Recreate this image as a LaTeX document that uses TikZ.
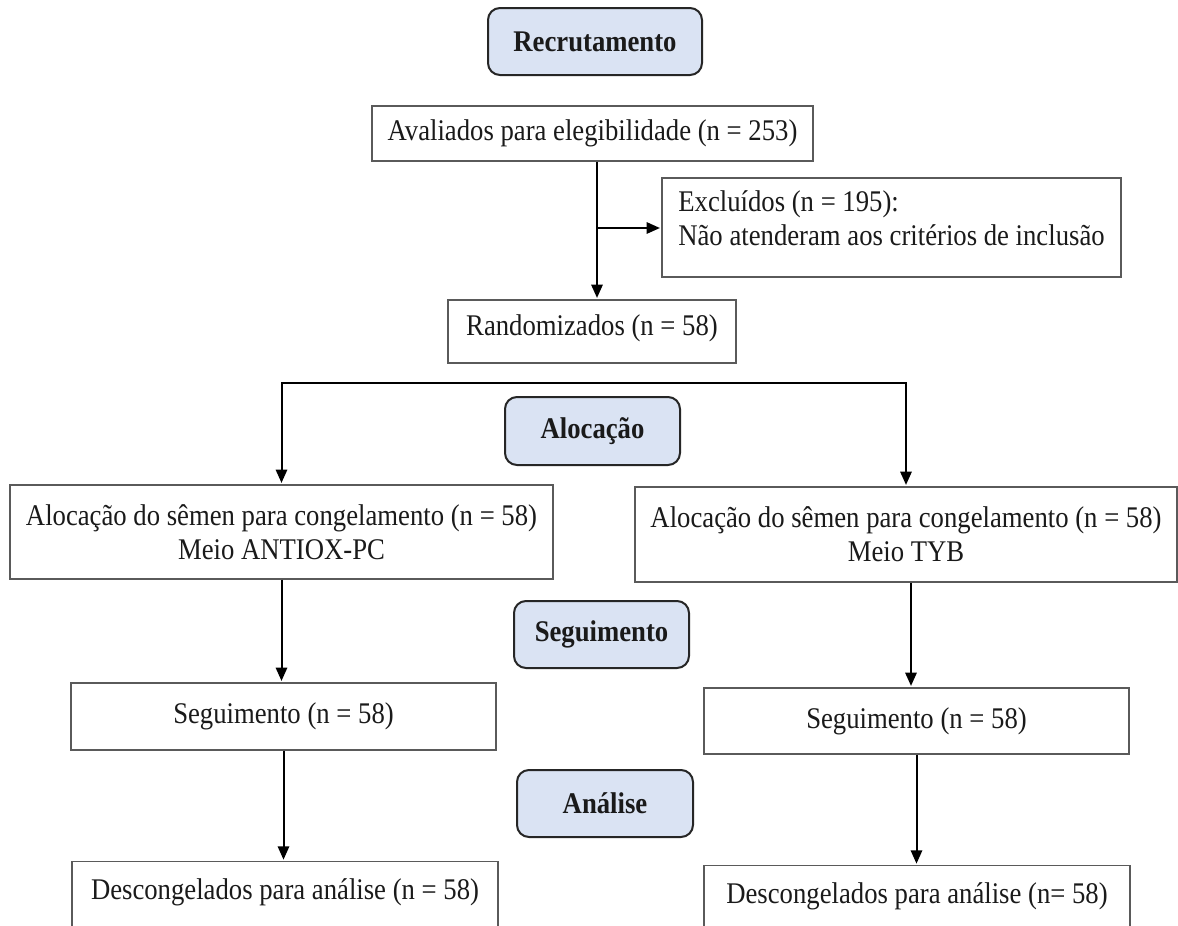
\documentclass[tikz,border=0pt]{standalone}
\usepackage{fontspec}
\setmainfont{Liberation Serif}[FakeStretch=0.89]
\usetikzlibrary{arrows.meta}
\definecolor{labfill}{HTML}{DAE3F3}
\definecolor{boxline}{HTML}{5A5A5A}
\definecolor{labline}{HTML}{262626}
\definecolor{txt}{HTML}{1A1A1A}
\begin{document}
\begin{tikzpicture}[x=0.75pt,y=-0.75pt,
  font=\fontsize{22.5}{25.5}\selectfont,
  sz/.style 2 args={minimum width=#1*0.75pt, minimum height=#2*0.75pt},
  box/.style={draw=boxline, line width=1.1pt, fill=white, inner sep=0pt, align=center, text=txt},
  lab/.style={draw=labline, line width=1.5pt, fill=labfill, rounded corners=9pt, inner sep=0pt,
              text=txt, font=\fontsize{22.5}{25.5}\selectfont\bfseries},
  arr/.style={draw=black, line width=1.5pt, -{Triangle[length=10pt,width=8.5pt]}, shorten >=1pt},
  con/.style={draw=black, line width=1.5pt, line cap=rect}]
\clip (0,0) rectangle (1178,925);
\fill[white] (0,0) rectangle (1178,925);

\node[lab, sz={214}{67}] (rec) at (595,41.5) {Recrutamento};
\node[box, sz={441}{55}] (aval) at (592.5,133.5) {Avaliados para elegibilidade (n = 253)};
\node[box, sz={459}{99}, align=left] (excl) at (891.5,227.5) {Excluídos (n = 195):\\Não atenderam aos critérios de inclusão\\[-12pt]\mbox{}};
\node[box, sz={288}{63}] (rand) at (592,331.5) {Randomizados (n = 58)\\[-16pt]\mbox{}};
\node[lab, sz={175}{68}] (aloc) at (592.5,431) {Alocação};
\node[box, sz={543}{94}] (allocL) at (281.5,532) {Alocação do sêmen para congelamento (n = 58)\\Meio ANTIOX-PC};
\node[box, sz={542}{95}] (allocR) at (906,534.5) {Alocação do sêmen para congelamento (n = 58)\\Meio TYB};
\node[lab, sz={175}{67}] (seglab) at (601.5,634.5) {Seguimento};
\node[box, sz={425}{67}] (segL) at (283.5,716.5) {Seguimento (n = 58)};
\node[box, sz={425}{66}] (segR) at (916.5,721) {Seguimento (n = 58)};
\node[lab, sz={176}{67}] (anlab) at (605,803.5) {Análise};
\node[box, sz={426}{88}, anchor=north] (descL) at (285,861) {Descongelados para análise (n = 58)\\\mbox{}};
\node[box, sz={426}{88}, anchor=north] (descR) at (917,865) {Descongelados para análise (n= 58)\\\mbox{}};

\coordinate (br) at (597,228);
\draw[arr] (br |- aval.south) -- (br |- rand.north);
\draw[arr] (br) -- (br -| excl.west);
\coordinate (hl) at (281.5,383);
\coordinate (hr) at (906,383);
\draw[con] (hl) -- (hr);
\draw[arr] (hl) -- (allocL.north);
\draw[arr] (hr) -- (allocR.north);
\draw[arr] (allocL.south) -- (allocL.south |- segL.north);
\draw[arr] ([xshift=3.75pt]allocR.south) -- ([xshift=3.75pt]allocR.south |- segR.north);
\draw[arr] (segL.south) -- (segL.south |- descL.north);
\draw[arr] (segR.south) -- (segR.south |- descR.north);
\end{tikzpicture}
\end{document}
